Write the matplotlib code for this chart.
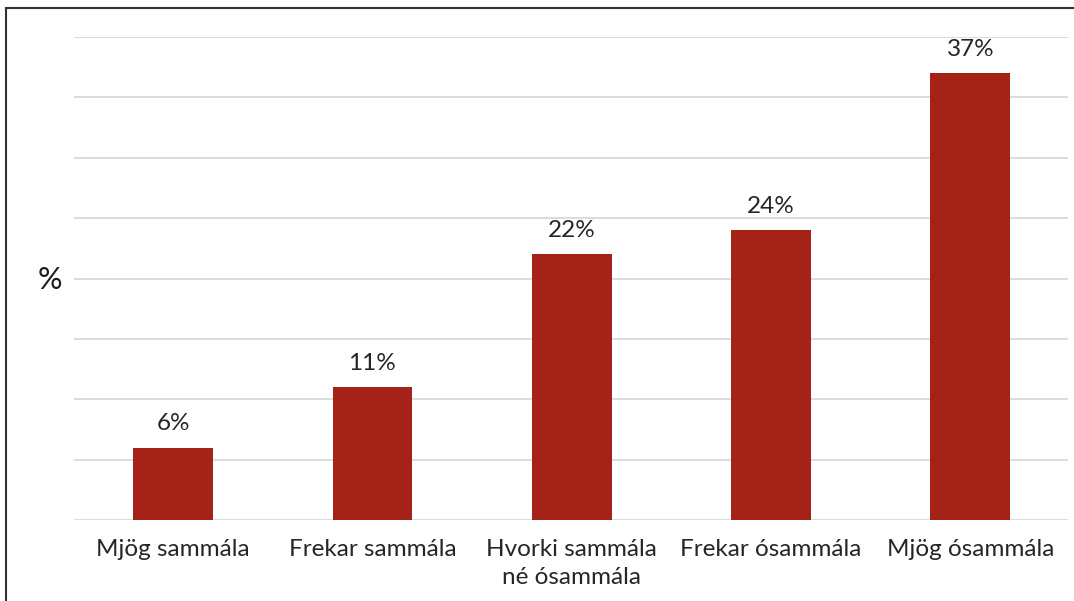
import matplotlib
matplotlib.use("Agg")
import matplotlib.pyplot as plt
from matplotlib.lines import Line2D

categories = ["Mjög sammála", "Frekar sammála", "Hvorki sammála\nné ósammála",
              "Frekar ósammála", "Mjög ósammála"]
values = [6, 11, 22, 24, 37]
value_labels = ["6%", "11%", "22%", "24%", "37%"]

plt.rcParams['font.family'] = ['Lato', 'DejaVu Sans']

fig = plt.figure(figsize=(10.74, 6.01), dpi=100)
ax = fig.add_axes([74/1074, 1-520/601, (1068-74)/1074, (520-37)/601])

x = list(range(len(categories)))
bars = ax.bar(x, values, width=0.4, color="#A52218", zorder=3)

ax.set_ylim(0, 40)
ax.set_xlim(-0.497, 4.49)
ax.set_yticks(range(0, 41, 5))
ax.yaxis.grid(True, color="#d9d9d9", linewidth=1.3, zorder=0)
ax.tick_params(axis='y', length=0, labelleft=False)
ax.tick_params(axis='x', length=0, pad=14, labelsize=17.5, labelcolor="#262626")
ax.set_xticks(x)
ax.set_xticklabels(categories, linespacing=1.4, va='top')
for s in ax.spines.values():
    s.set_visible(False)

for xi, v, lab in zip(x, values, value_labels):
    ax.annotate(lab, (xi, v), xytext=(0, 17), textcoords='offset points',
                ha='center', va='center', fontsize=17.5, color="#262626")

fig.text(50/1074, 1-280/601, "%", ha='center', va='center', fontsize=22, color="#1a1a1a")

# outer frame (left and top edges)
fig.add_artist(Line2D([6/1074, 6/1074], [0, 1-8/601], transform=fig.transFigure,
                      color="#333333", linewidth=1.5))
fig.add_artist(Line2D([6/1074, 1], [1-8/601, 1-8/601], transform=fig.transFigure,
                      color="#333333", linewidth=1.5))

fig.savefig("out.png", dpi=100)
